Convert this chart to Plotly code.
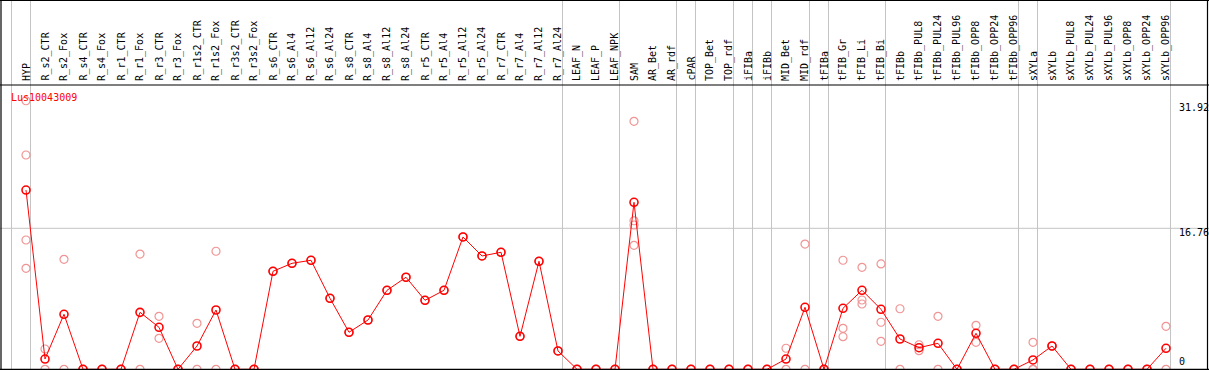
import plotly.graph_objects as go

categories = ["HYP", "R_s2_CTR", "R_s2_Fox", "R_s4_CTR", "R_s4_Fox", "R_r1_CTR", "R_r1_Fox",
              "R_r3_CTR", "R_r3_Fox", "R_r1s2_CTR", "R_r1s2_Fox", "R_r3s2_CTR", "R_r3s2_Fox",
              "R_s6_CTR", "R_s6_Al4", "R_s6_Al12", "R_s6_Al24", "R_s8_CTR", "R_s8_Al4", "R_s8_Al12",
              "R_s8_Al24", "R_r5_CTR", "R_r5_Al4", "R_r5_Al12", "R_r5_Al24", "R_r7_CTR", "R_r7_Al4",
              "R_r7_Al12", "R_r7_Al24", "LEAF_N", "LEAF_P", "LEAF_NPK", "SAM", "AR_Bet", "AR_rdf",
              "cPAR", "TOP_Bet", "TOP_rdf", "iFIBa", "iFIBb", "MID_Bet", "MID_rdf", "tFIBa",
              "tFIB_Gr", "tFIB_Li", "tFIB_Bi", "tFIBb", "tFIBb_PUL8", "tFIBb_PUL24", "tFIBb_PUL96",
              "tFIBb_OPP8", "tFIBb_OPP24", "tFIBb_OPP96", "sXYLa", "sXYLb", "sXYLb_PUL8",
              "sXYLb_PUL24", "sXYLb_PUL96", "sXYLb_OPP8", "sXYLb_OPP24", "sXYLb_OPP96"]

means = [21.31, 1.22, 6.54, 0, 0, 0, 6.77, 4.99, 0, 2.77, 7.05, 0, 0,
         11.65, 12.6, 12.96, 8.44, 4.40, 5.86, 9.39, 10.94, 8.20, 9.39, 15.73, 13.47,
         13.91, 3.92, 12.84, 2.18, 0, 0, 0, 19.85, 0, 0, 0, 0, 0, 0, 0, 1.22, 7.37, 0,
         7.25, 9.39, 7.13, 3.60, 2.57, 3.09, 0, 4.28, 0, 0, 1.11, 2.77, 0, 0, 0, 0, 0, 2.50]

replicates = [
    [31.92, 25.47, 15.37, 12.0],   # HYP
    [2.41, 0], [13.07, 0], [0, 0], [0, 0], [0, 0], [13.7, 0], [6.3, 3.68], [0, 0],
    [5.47, 0], [14.03, 0], [0, 0], [0, 0],
    [11.65], [12.6], [12.96], [8.44], [4.40], [5.86], [9.39], [10.94],
    [8.20], [9.39], [15.73], [13.47], [13.91], [3.92], [12.84], [2.18],
    [0, 0], [0, 0], [0, 0],
    [29.48, 17.66, 17.15, 14.74],  # SAM
    [0, 0], [0, 0], [0, 0], [0, 0], [0, 0], [0, 0], [0, 0],
    [2.50, 0], [14.89, 0], [0, 0],
    [12.96, 4.87, 3.88], [12.12, 8.24, 7.76], [12.52, 5.59, 3.33],
    [7.2, 0], [2.92, 2.21], [6.3, 0], [0, 0], [5.23, 3.21], [0, 0], [0, 0],
    [3.21, 0, 0], [2.77, 2.77], [0, 0], [0, 0], [0, 0], [0, 0], [0, 0], [5.11, 0],
]

group_starts = [0, 1, 29, 32, 35, 36, 38, 39, 40, 42, 43, 46, 53, 54, 61]
axis_labels = ["31.92", "16.76", "0"]
axis_values = [31.92, 16.76, 0]
gene_name = "Lus10043009"

W, H = 1209, 370
FONT = "DejaVu Sans Mono"

# pixel mapping
x0_px, dx_px = 26.0, 19.0
y0_px, py_per_unit = 369.3, 8.413
x_range = [(0 - x0_px) / dx_px, (W - x0_px) / dx_px]
y_range = [(y0_px - H) / py_per_unit, y0_px / py_per_unit]

def py(px):
    return (H - px) / H

def pxx(px):
    return px / W

fig = go.Figure()

rx, ry = [], []
for i, reps in enumerate(replicates):
    for v in reps:
        rx.append(i)
        ry.append(v)

fig.add_trace(go.Scatter(x=rx, y=ry, mode="markers",
                         marker=dict(symbol="circle-open", size=8, color="#F09494",
                                     line=dict(width=1.2)),
                         hoverinfo="y", showlegend=False, cliponaxis=False))
fig.add_trace(go.Scatter(x=list(range(len(categories))), y=means, mode="lines+markers",
                         line=dict(color="#FF0000", width=1),
                         marker=dict(symbol="circle-open", size=8, color="#FF0000",
                                     line=dict(width=1.6)),
                         hoverinfo="y", showlegend=False, cliponaxis=False))

shapes = []
for s in group_starts:
    xv = s - 14.5 / dx_px
    shapes.append(dict(type="line", xref="x", yref="paper", x0=xv, x1=xv, y0=0, y1=1,
                       line=dict(color="#C4C4C4", width=1), layer="below"))
shapes.append(dict(type="line", xref="paper", yref="y", x0=0, x1=1, y0=16.76, y1=16.76,
                   line=dict(color="#C4C4C4", width=1), layer="below"))
# black frame and header separator
for (a, b, c, d) in [(0, 0.5, W, 0.5), (0, 85, W, 85), (1, 0, 1, H), (W - 1.5, 0, W - 1.5, H),
                     (0, H - 0.7, W, H - 0.7)]:
    shapes.append(dict(type="line", xref="paper", yref="paper",
                       x0=pxx(a), x1=pxx(c), y0=py(b), y1=py(d),
                       line=dict(color="black", width=1.2), layer="above"))

annotations = []
for i, c in enumerate(categories):
    annotations.append(dict(x=i, xref="x", y=py(83), yref="paper", text=c, showarrow=False,
                            textangle=-90, xanchor="center", yanchor="bottom",
                            font=dict(family=FONT, size=10, color="black")))
label_px = [107, 232, 361.7]
for t, ypx in zip(axis_labels, label_px):
    annotations.append(dict(x=pxx(1177), xref="paper", y=py(ypx), yref="paper", text=t,
                            showarrow=False, xanchor="left", yanchor="middle",
                            font=dict(family=FONT, size=10, color="black")))
annotations.append(dict(x=pxx(9), xref="paper", y=py(97), yref="paper", text=gene_name,
                        showarrow=False, xanchor="left", yanchor="middle",
                        font=dict(family=FONT, size=10, color="#FF0000")))

fig.update_layout(width=W, height=H, margin=dict(l=0, r=0, t=0, b=0),
                  paper_bgcolor="white", plot_bgcolor="white",
                  xaxis=dict(range=x_range, visible=False, fixedrange=True),
                  yaxis=dict(range=y_range, visible=False, fixedrange=True),
                  shapes=shapes, annotations=annotations, showlegend=False)

fig.write_html("out.html", config={"displayModeBar": False},
               post_script="document.body.style.margin='0';document.body.style.padding='0';document.body.style.overflow='hidden';")
